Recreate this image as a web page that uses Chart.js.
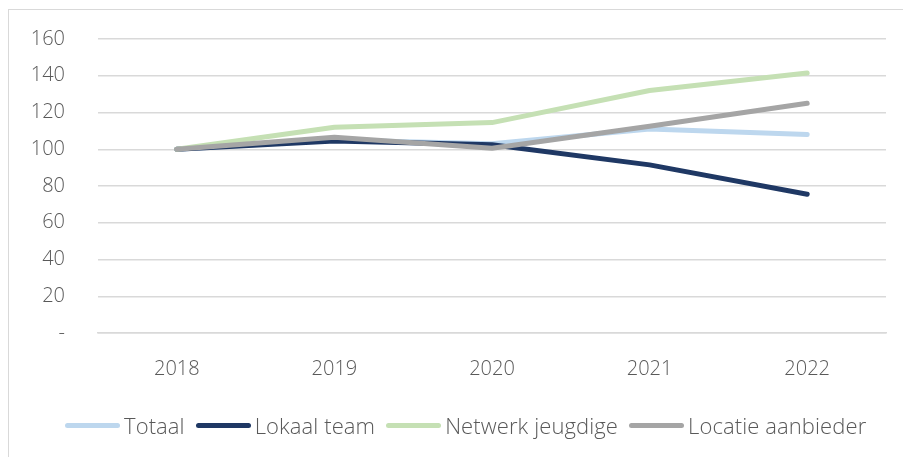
<!DOCTYPE html>
<html><head><meta charset="utf-8">
<script src="https://cdn.jsdelivr.net/npm/chart.js@4/dist/chart.umd.min.js"></script>
<style>
html,body{margin:0;padding:0;background:#fff;overflow:hidden;}
#wrap{position:relative;width:903px;height:457px;}
#frame{position:absolute;left:8px;top:9px;width:900px;height:460px;border:1.5px solid #D9D9D9;box-sizing:border-box;}
canvas{position:absolute;left:0;top:0;}
#legend{position:absolute;left:65px;top:411px;height:28px;display:flex;align-items:center;
  font-family:'Open Sans','Lato',sans-serif;font-size:22px;font-weight:300;color:#595959;white-space:nowrap;letter-spacing:0.1px;}
#legend .it{display:flex;align-items:center;margin-right:11px;}
#legend .ln{display:inline-block;width:55px;height:5px;border-radius:3px;margin-right:4px;}
</style></head>
<body><div id="wrap"><div id="frame"></div><canvas id="c" width="903" height="457"></canvas><div id="legend"></div></div>
<script>
const years = ['2018','2019','2020','2021','2022'];
const totaal = [100, 105, 103, 111, 108];
const lokaalTeam = [100, 104.5, 102.5, 91.5, 75.5];
const netwerkJeugdige = [100, 112, 114.5, 132, 141.5];
const locatieAanbieder = [100, 106.5, 100.5, 112.5, 125];
const yTicks = [0, 20, 40, 60, 80, 100, 120, 140, 160];

const FONT = "'Open Sans', 'Lato', sans-serif";
const mk = (label, data, color, order) => ({
  label, data, borderColor: color, backgroundColor: color, borderWidth: 5,
  pointRadius: 0, tension: 0, borderCapStyle: 'round', borderJoinStyle: 'round', order, fill: false
});

const chart = new Chart(document.getElementById('c'), {
  type: 'line',
  data: {
    labels: years,
    datasets: [
      mk('Totaal', totaal, '#BDD7EE', 4),
      mk('Lokaal team', lokaalTeam, '#1F3864', 3),
      mk('Netwerk jeugdige', netwerkJeugdige, '#C5E0B4', 2),
      mk('Locatie aanbieder', locatieAanbieder, '#A5A5A5', 1)
    ]
  },
  options: {
    responsive: false, animation: false, devicePixelRatio: 1,
    layout: { padding: { left: 10, right: 17, top: 39, bottom: 74 } },
    plugins: { tooltip: { enabled: false }, legend: { display: false } },
    scales: {
      x: {
        offset: true,
        grid: { display: false, drawTicks: false },
        border: { display: true, color: '#D9D9D9', width: 1.5 },
        ticks: { color: '#595959', font: { family: FONT, size: 20, weight: 300 }, padding: 24 },
        afterFit: s => { s.height = 50; }
      },
      y: {
        min: 0, max: 160,
        afterBuildTicks: s => { s.ticks = yTicks.map(v => ({ value: v })); },
        grid: { color: '#D9D9D9', lineWidth: 1.5, drawTicks: false },
        border: { display: false },
        ticks: {
          color: '#595959', font: { family: FONT, size: 20, weight: 300 }, padding: 33,
          callback: v => v === 0 ? '-' : String(v)
        },
        afterFit: s => { s.width = 88; s.paddingTop = 0; s.paddingBottom = 0; }
      }
    }
  }
});

const lg = document.getElementById('legend');
chart.data.datasets.forEach(d => {
  const it = document.createElement('div'); it.className = 'it';
  const ln = document.createElement('span'); ln.className = 'ln'; ln.style.background = d.borderColor;
  const tx = document.createElement('span'); tx.textContent = d.label;
  it.appendChild(ln); it.appendChild(tx); lg.appendChild(it);
});
</script></body></html>
